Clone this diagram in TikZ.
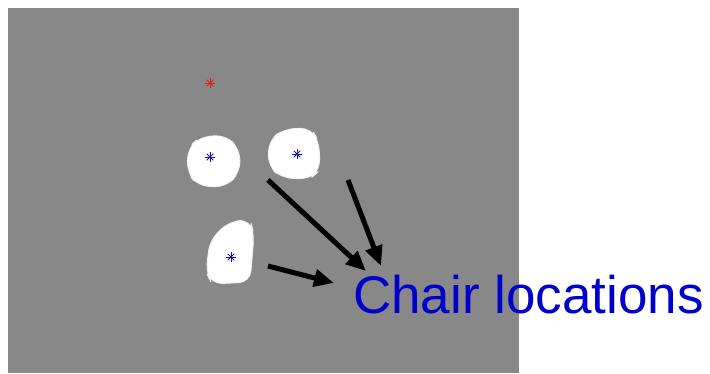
\documentclass[tikz,border=0pt]{standalone}
\usepackage{fontspec}
\setmainfont{Liberation Sans}
\usetikzlibrary{arrows.meta,calc,shapes.geometric}
\definecolor{field}{RGB}{136,136,136}
\definecolor{labelblue}{RGB}{0,0,204}
\definecolor{markblue}{RGB}{20,20,160}
\definecolor{markred}{RGB}{220,30,30}
\tikzset{
  x=1pt, y=-1pt,
  blob/.style={fill=white, draw=white!90!field, line width=1pt, line join=round, rounded corners=11pt},
  pointer/.style={line width=5pt, -{Triangle[length=20pt,width=17pt]}, black},
  caption/.style={font=\fontsize{53}{53}\selectfont, text=labelblue, inner sep=0pt, anchor=base west},
}
% eight-spoke asterisk marker
\newcommand{\starmark}[3]{%
  \foreach \a in {0,45,90,135}{
    \draw[#3, line width=0.75pt] ($(#1,#2)+(\a:4.6pt)$) -- ($(#1,#2)+(\a+180:4.6pt)$);
  }}
\begin{document}
\begin{tikzpicture}
\useasboundingbox (0,0) rectangle (710,373);
\fill[field] (8,8) rectangle (519,373);

% chair blobs
\path[blob] (200,137) -- (226,135) -- (240,150) -- (240,172) -- (226,187) -- (198,186) -- (187,172) -- (188,148) -- cycle;
\coordinate (chairA) at (210,157);
\path[blob] (284,129) -- (311,128) -- (319,142) -- (320,170) -- (310,179) -- (282,178) -- (268,166) -- (269,140) -- cycle;
\coordinate (chairB) at (297,154);
\path[blob] (230,221) -- (250,220) -- (254,234) -- (250,282) -- (212,284) -- (206,272) -- (210,240) -- cycle;
\coordinate (chairC) at (231,257);

% detected centres
\starmark{210}{157}{markblue}
\starmark{297}{154}{markblue}
\starmark{231}{257}{markblue}
\starmark{210}{83}{markred}

% caption and pointers
\node[caption] (label) at (353,313) {Chair locations};
\coordinate (tipA) at (366,271);
\coordinate (tipB) at (381,266);
\coordinate (tipC) at (334,283);
\coordinate (tailA) at (268,180);
\coordinate (tailB) at (348,180);
\coordinate (tailC) at (268,266);
\draw[pointer] (tailA) -- (tipA);
\draw[pointer] (tailB) -- (tipB);
\draw[pointer] (tailC) -- (tipC);
\end{tikzpicture}
\end{document}
